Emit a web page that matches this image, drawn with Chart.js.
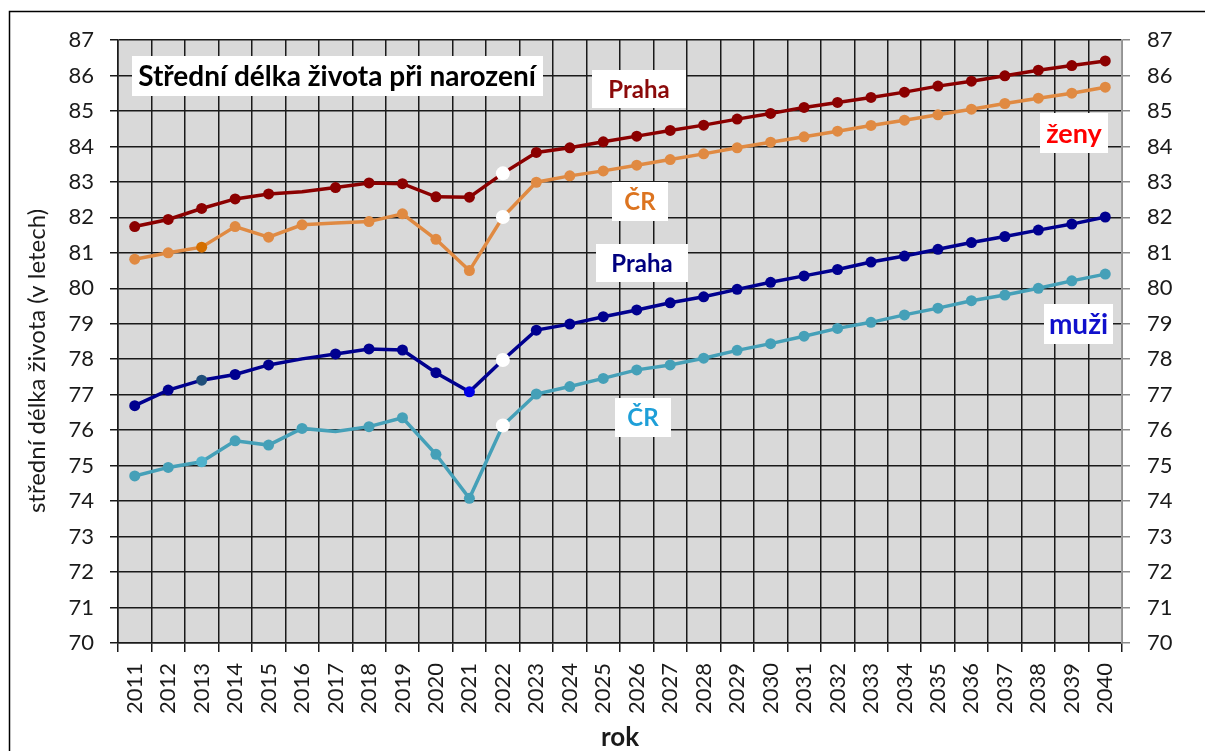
<!DOCTYPE html>
<html><head><meta charset="utf-8">
<script src="https://cdn.jsdelivr.net/npm/chart.js@4.4.0/dist/chart.umd.min.js"></script>
<style>html,body{margin:0;padding:0;background:#fff;overflow:hidden}#wrap{width:1205px;height:751px;position:relative}canvas{display:block}</style>
</head><body><div id="wrap"><canvas id="c" width="1205" height="751"></canvas></div>
<script>
// ---- data ----
const years = ['2011','2012','2013','2014','2015','2016','2017','2018','2019','2020',
  '2021','2022','2023','2024','2025','2026','2027','2028','2029','2030',
  '2031','2032','2033','2034','2035','2036','2037','2038','2039','2040'];
const zenyPraha = [81.74,81.94,82.25,82.52,82.66,82.72,82.84,82.97,82.95,82.58,
  82.57,83.24,83.83,83.96,84.13,84.29,84.45,84.60,84.77,84.93,
  85.10,85.24,85.38,85.53,85.70,85.84,85.99,86.15,86.28,86.41];
const zenyCR = [80.82,81.00,81.16,81.74,81.44,81.79,81.84,81.88,82.10,81.38,
  80.50,82.01,82.99,83.17,83.31,83.47,83.63,83.79,83.96,84.12,
  84.27,84.43,84.59,84.74,84.89,85.05,85.21,85.36,85.50,85.67];
const muziPraha = [76.69,77.13,77.41,77.57,77.84,78.01,78.15,78.29,78.26,77.62,
  77.08,77.98,78.82,78.99,79.20,79.39,79.59,79.76,79.97,80.17,
  80.35,80.53,80.74,80.91,81.10,81.29,81.46,81.64,81.81,82.01];
const muziCR = [74.71,74.95,75.11,75.70,75.58,76.05,75.96,76.10,76.35,75.32,
  74.08,76.13,77.02,77.23,77.46,77.70,77.84,78.03,78.25,78.44,
  78.65,78.87,79.04,79.25,79.44,79.65,79.81,80.00,80.21,80.40];
const yMin = 70, yMax = 87, yStep = 1;

const titleText = 'Střední délka života při narození';
const yTitle = 'střední délka života (v letech)';
const xTitle = 'rok';

// ---- styles ----
const FONT = 'Lato, "Noto Sans", sans-serif';
const whiteYear = '2022';
const seriesStyle = [
  {key:'zenyPraha', data:zenyPraha, color:'#8B0000', noMarker:['2016'], special:{}},
  {key:'zenyCR', data:zenyCR, color:'#E08A42', noMarker:['2017'], special:{'2013':'#D46F00'}},
  {key:'muziPraha', data:muziPraha, color:'#00008F', noMarker:['2016'], special:{'2013':'#1F4E79','2021':'#0000E6'}},
  {key:'muziCR', data:muziCR, color:'#45A0B8', noMarker:['2017'], special:{'2013':'#4FB2CC'}}
];
const labels = [
  {text:'Praha', color:'#8B0A0A', box:[592,70,94,38], size:24},
  {text:'ČR', color:'#DC7420', box:[612,182,56,39], size:24},
  {text:'Praha', color:'#00007F', box:[596,244,92,38], size:24},
  {text:'ČR', color:'#1E9FD8', box:[615,398,56,39], size:24},
  {text:'ženy', color:'#FF0000', box:[1040,113,68,40], size:27},
  {text:'muži', color:'#1010CC', box:[1044,304,69,40], size:28}
];

const datasets = seriesStyle.map(s => ({
  label: s.key,
  data: s.data,
  borderColor: s.color,
  borderWidth: 3.5,
  tension: 0,
  pointRadius: ctx => {
    const y = years[ctx.dataIndex];
    if (s.noMarker.includes(y)) return 0;
    return y === whiteYear ? 7 : 5.5;
  },
  pointBackgroundColor: ctx => {
    const y = years[ctx.dataIndex];
    if (y === whiteYear) return '#FFFFFF';
    return s.special[y] || s.color;
  },
  pointBorderWidth: 0,
  pointHoverRadius: 0
}));

const gridColor = '#1a1a1a';
const tickFont = {family: FONT, size: 22};

const decor = {
  id: 'decor',
  beforeDraw(chart) {
    const {ctx, chartArea: a} = chart;
    ctx.save();
    ctx.fillStyle = '#fff';
    ctx.fillRect(0, 0, chart.width, chart.height);
    ctx.fillStyle = '#D9D9D9';
    ctx.fillRect(a.left, a.top, a.right - a.left, a.bottom - a.top);
    ctx.restore();
  },
  afterDraw(chart) {
    const {ctx} = chart;
    ctx.save();
    // outer frame
    ctx.strokeStyle = '#000';
    ctx.lineWidth = 1.5;
    ctx.beginPath();
    ctx.moveTo(9.5, 751); ctx.lineTo(9.5, 11.5); ctx.lineTo(1205, 11.5);
    ctx.stroke();
    // title box
    ctx.fillStyle = '#fff';
    ctx.fillRect(132, 56, 411, 40);
    ctx.fillStyle = '#000';
    ctx.font = 'bold 28px ' + FONT;
    ctx.textAlign = 'center';
    ctx.textBaseline = 'middle';
    ctx.fillText(titleText, 337, 77);
    // series labels
    labels.forEach(l => {
      const [x, y, w, h] = l.box;
      ctx.fillStyle = '#fff';
      ctx.fillRect(x, y, w, h);
      ctx.fillStyle = l.color;
      ctx.font = 'bold ' + l.size + 'px ' + FONT;
      ctx.fillText(l.text, x + w / 2, y + h / 2 + 1);
    });
    // axis titles
    ctx.fillStyle = '#1a1a1a';
    ctx.font = '24px ' + FONT;
    ctx.save();
    ctx.translate(37, 361);
    ctx.rotate(-Math.PI / 2);
    ctx.fillText(yTitle, 0, 0);
    ctx.restore();
    ctx.font = 'bold 26px ' + FONT;
    ctx.fillText(xTitle, 620, 738);
    ctx.restore();
  }
};

new Chart(document.getElementById('c'), {
  type: 'line',
  data: {labels: years, datasets},
  options: {
    responsive: false,
    devicePixelRatio: 1,
    animation: false,
    layout: {padding: {top: 40, left: 0, right: 0, bottom: 0}},
    plugins: {legend: {display: false}, tooltip: {enabled: false}},
    events: [],
    scales: {
      x: {
        type: 'category',
        offset: true,
        grid: {offset: true, color: gridColor, lineWidth: 1.5, tickLength: 9, drawTicks: true},
        border: {display: true, color: gridColor, width: 1.5},
        ticks: {autoSkip: false, minRotation: 90, maxRotation: 90, font: tickFont, color: '#1a1a1a', padding: 11},
        afterFit(s) { s.height = 108; }
      },
      y: {
        position: 'left',
        min: yMin, max: yMax,
        grid: {color: gridColor, lineWidth: 1.5, tickLength: 8},
        border: {display: true, color: gridColor, width: 1.5},
        ticks: {stepSize: yStep, font: tickFont, color: '#1a1a1a', padding: 16},
        afterFit(s) { s.width = 118; }
      },
      y2: {
        position: 'right',
        min: yMin, max: yMax,
        grid: {drawOnChartArea: false, color: '#8a8a8a', lineWidth: 1.5, tickLength: 8},
        border: {display: true, color: '#9a9a9a', width: 1.5},
        ticks: {stepSize: yStep, font: tickFont, color: '#1a1a1a', padding: 17},
        afterFit(s) { s.width = 83; }
      }
    }
  },
  plugins: [decor]
});
</script>
</body></html>
